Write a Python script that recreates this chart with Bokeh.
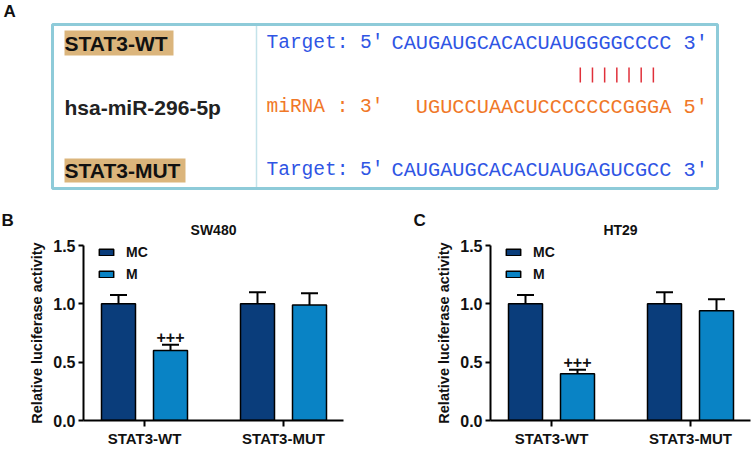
from bokeh.plotting import figure
from bokeh.models import (Range1d, FixedTicker, PrintfTickFormatter, Whisker, TeeHead,
                          ColumnDataSource, Legend, LegendItem)
from bokeh.layouts import column, row
from bokeh.core.properties import value
from bokeh.embed import file_html
from bokeh.resources import INLINE

# ---------------- data ----------------
groups = ["STAT3-WT", "STAT3-MUT"]
series = ["MC", "M"]
sw480_mc = [1.00, 1.00]
sw480_mc_err = [0.075, 0.10]
sw480_m = [0.60, 0.99]
sw480_m_err = [0.05, 0.10]
ht29_mc = [1.00, 1.00]
ht29_mc_err = [0.075, 0.10]
ht29_m = [0.40, 0.94]
ht29_m_err = [0.035, 0.10]
sig_marks = ["+++", ""]
y_ticks = [0.0, 0.5, 1.0, 1.5]
y_title = "Relative luciferase activity"
panel_letters = ["A", "B", "C"]
panel_titles = ["SW480", "HT29"]

wt_label = "STAT3-WT"
mut_label = "STAT3-MUT"
mirna_label = "hsa-miR-296-5p"
target_prefix = "Target: 5'"
mirna_prefix = "miRNA : 3'"
wt_seq = "CAUGAUGCACACUAUGGGGCCCC"
wt_end = "3'"
mirna_seq = "UGUCCUAACUCCCCCCCGGGA"
mirna_end = "5'"
mut_seq = "CAUGAUGCACACUAUGAGUCGCC"
pair_cols = [15, 16, 17, 18, 19, 20, 21]
mirna_col_offset = 2

# ---------------- style ----------------
SANS_NAME = "Liberation Sans"
SANS = value(SANS_NAME)
MONO = value("Liberation Mono")
INK = "#111111"
MC_COLOR = "#0a3d7b"
M_COLOR = "#0983c5"
BOX_COLOR = "#8ecbd9"
DIV_COLOR = "#c4e3ea"
HL_COLOR = "#dbb57c"
SEQ_BLUE = "#2f55e4"
SEQ_ORANGE = "#f07828"
PAIR_RED = "#e0303a"

W = 753
TOP_H = 238
BOT_H = 449 - TOP_H
FRAME_TOP = 245           # page y of the value 1.5 in panels B and C
FRAME_H = 178
B_W, C_W = 376, 377
B_LEFT, B_RIGHT = 83, 33
C_LEFT, C_RIGHT = 114, 3

# ---------------- panel A (also carries the B / C headers) ----------------
pa = figure(width=W, height=TOP_H, x_range=Range1d(0, W), y_range=Range1d(TOP_H, 0),
            output_backend="svg", toolbar_location=None, min_border=0,
            x_axis_location=None, y_axis_location=None)
pa.grid.visible = False
pa.outline_line_color = None

pa.quad(left=[52], right=[717], top=[24], bottom=[188], fill_color=None,
        line_color=BOX_COLOR, line_width=3)
pa.segment(x0=[256], y0=[25.5], x1=[256], y1=[186.5], line_color=DIV_COLOR, line_width=1.5)

pa.quad(left=[64, 64], right=[173, 185], top=[30, 158], bottom=[55, 182],
        fill_color=HL_COLOR, line_color=None)
pa.text(x=[64, 64, 64], y=[42.5, 106.5, 170], text=[wt_label, mirna_label, mut_label],
        text_font=SANS, text_font_style="bold", text_font_size="21px",
        text_baseline="middle", text_color=["#111111", "#222222", "#111111"])

PRE_X = 266
SEQ_X = 391
SEQ_FS = 20.3
CW = 0.6 * SEQ_FS
pa.text(x=[PRE_X, PRE_X, PRE_X], y=[42.5, 106.5, 169.5],
        text=[target_prefix, mirna_prefix, target_prefix],
        text_font=MONO, text_font_size="19.5px", text_baseline="middle",
        text_color=[SEQ_BLUE, SEQ_ORANGE, SEQ_BLUE])
pa.text(x=[SEQ_X, SEQ_X + mirna_col_offset * CW, SEQ_X], y=[42.5, 106.5, 169.5],
        text=[wt_seq + " " + wt_end, mirna_seq + " " + mirna_end, mut_seq + " " + wt_end],
        text_font=MONO, text_font_size=f"{SEQ_FS}px", text_baseline="middle",
        text_color=[SEQ_BLUE, SEQ_ORANGE, SEQ_BLUE])
pair_x = [SEQ_X + (c + 0.5) * CW for c in pair_cols]
pa.segment(x0=pair_x, y0=[67] * len(pair_x), x1=pair_x, y1=[82] * len(pair_x),
           line_color=PAIR_RED, line_width=1.5)

# panel letters and titles of B / C
b_frame = (B_LEFT, B_W - B_RIGHT)
c_frame = (B_W + C_LEFT, W - C_RIGHT)
pa.text(x=[3, 1, c_frame[0] - 77], y=[11, FRAME_TOP - 25, FRAME_TOP - 25],
        text=panel_letters, text_font=SANS, text_font_style="bold",
        text_font_size="17px", text_baseline="middle", text_color=INK)
pa.text(x=[sum(b_frame) / 2, sum(c_frame) / 2], y=[FRAME_TOP - 15.5] * 2,
        text=panel_titles, text_font=SANS, text_font_style="bold",
        text_font_size="14px", text_baseline="middle", text_align="center", text_color=INK)

# ---------------- panels B / C ----------------
UNIT = 139.0          # px per category step
X0 = -61.0 / UNIT
OFF = 26.0 / UNIT
BAR_W = 34.0 / UNIT


def bar_panel(mc, mc_err, m, m_err, width, left_border, right_border):
    frame_w = width - left_border - right_border
    x_end = X0 + frame_w / UNIT
    p = figure(width=width, height=BOT_H, x_range=Range1d(X0, x_end), y_range=Range1d(0, 1.5),
               output_backend="svg", toolbar_location=None,
               min_border_left=left_border, min_border_right=right_border,
               min_border_top=FRAME_TOP - TOP_H,
               min_border_bottom=BOT_H - (FRAME_TOP - TOP_H) - FRAME_H)
    p.grid.visible = False
    p.outline_line_color = None

    xs = list(range(len(groups)))
    src_mc = ColumnDataSource(dict(x=[i - OFF for i in xs], top=mc,
                                   upper=[v + e for v, e in zip(mc, mc_err)]))
    src_m = ColumnDataSource(dict(x=[i + OFF for i in xs], top=m,
                                  upper=[v + e for v, e in zip(m, m_err)], sig=sig_marks))
    r_mc = p.vbar(x="x", top="top", width=BAR_W, source=src_mc, fill_color=MC_COLOR,
                  line_color="black", line_width=1.5)
    r_m = p.vbar(x="x", top="top", width=BAR_W, source=src_m, fill_color=M_COLOR,
                 line_color="black", line_width=1.5)
    for src in (src_mc, src_m):
        p.add_layout(Whisker(source=src, base="x", upper="upper", lower="top",
                             dimension="height", line_width=2, line_color="black",
                             upper_head=TeeHead(size=17, line_width=2, line_color="black"),
                             lower_head=None))
    p.text(x="x", y="upper", text="sig", source=src_m, y_offset=-8, text_align="center",
           text_baseline="middle", text_font=SANS, text_font_style="bold",
           text_font_size="16px", text_color=INK)

    legend = Legend(items=[LegendItem(label=series[0], renderers=[r_mc]),
                           LegendItem(label=series[1], renderers=[r_m])],
                    location=(14, 138), padding=0, margin=0, spacing=6,
                    glyph_width=18, glyph_height=8, label_height=16, label_standoff=11,
                    label_text_font=SANS_NAME, label_text_font_style="bold",
                    label_text_font_size="14px", label_text_color=INK,
                    border_line_color=None, background_fill_alpha=0)
    p.add_layout(legend)

    for ax in (p.xaxis, p.yaxis):
        ax.axis_line_width = 2
        ax.axis_line_color = "black"
        ax.major_tick_line_width = 2
        ax.major_tick_line_color = "black"
        ax.major_tick_in = 0
        ax.minor_tick_line_color = None
        ax.major_label_text_font = SANS_NAME
        ax.major_label_text_font_style = "bold"
        ax.major_label_text_color = INK
    p.yaxis.major_label_text_font_size = "16px"
    p.xaxis.major_label_text_font_size = "15px"
    p.yaxis.ticker = FixedTicker(ticks=y_ticks)
    p.yaxis.formatter = PrintfTickFormatter(format="%.1f")
    p.yaxis.major_tick_out = 5
    p.yaxis.major_label_standoff = 3
    p.yaxis.axis_label = y_title
    p.yaxis.axis_label_text_font = SANS_NAME
    p.yaxis.axis_label_text_font_style = "bold"
    p.yaxis.axis_label_text_font_size = "14.5px"
    p.yaxis.axis_label_text_color = INK
    p.yaxis.axis_label_standoff = 5
    p.xaxis.ticker = FixedTicker(ticks=xs)
    p.xaxis.major_label_overrides = {i: g for i, g in enumerate(groups)}
    p.xaxis.major_tick_out = 6
    p.xaxis.major_label_standoff = 3
    return p


pb = bar_panel(sw480_mc, sw480_mc_err, sw480_m, sw480_m_err, B_W, B_LEFT, B_RIGHT)
pc = bar_panel(ht29_mc, ht29_mc_err, ht29_m, ht29_m_err, C_W, C_LEFT, C_RIGHT)

layout = column(pa, row(pb, pc))
open("out.html", "w").write(file_html(layout, INLINE))
